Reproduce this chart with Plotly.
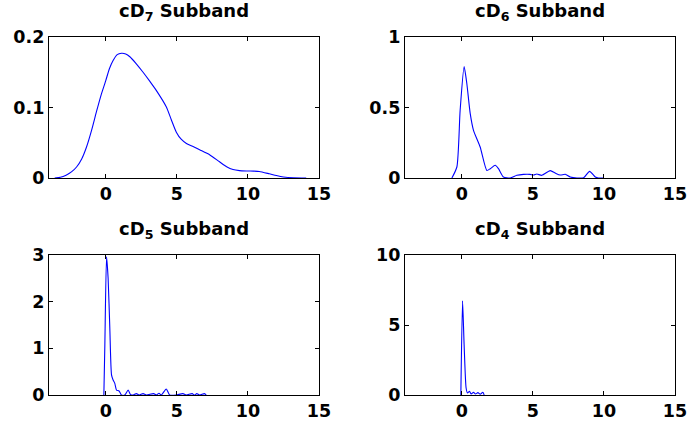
import plotly.graph_objects as go

# ---- data ----
x7 = [-3.6, -3.2, -2.8, -2.4, -2.06, -1.7, -1.36, -1.0, -0.66, -0.33, 0.0, 0.25, 0.52, 0.8, 1.1, 1.4, 1.69, 2.1, 2.62, 3.1, 3.56, 4.26, 4.6, 4.96, 5.3, 5.67, 6.1, 6.6, 7.3, 8.0, 8.5, 8.95, 9.4, 9.9, 10.4, 10.8, 11.5, 12.0, 12.5, 13.2, 14.1]
y7 = [0.0, 0.001, 0.004, 0.009, 0.0156, 0.027, 0.044, 0.068, 0.094, 0.118, 0.1385, 0.155, 0.167, 0.175, 0.177, 0.176, 0.172, 0.163, 0.150, 0.137, 0.124, 0.1007, 0.083, 0.065, 0.055, 0.049, 0.045, 0.040, 0.033, 0.023, 0.016, 0.012, 0.0105, 0.010, 0.0098, 0.0093, 0.006, 0.0035, 0.0015, 0.0003, 0.0]

x6 = [-0.7, -0.35, -0.12, 0.16, 0.35, 0.59, 0.82, 1.29, 1.76, 2.0, 2.35, 2.58, 2.93, 3.4, 3.87, 4.34, 4.8, 5.05, 5.28, 5.63, 6.22, 6.57, 6.92, 7.28, 7.63, 8.1, 8.57, 8.99, 9.39, 9.62, 9.98]
y6 = [0.0, 0.078, 0.48, 0.79, 0.67, 0.456, 0.338, 0.22, 0.054, 0.066, 0.09, 0.066, 0.007, 0.0, 0.019, 0.026, 0.026, 0.021, 0.028, 0.019, 0.052, 0.035, 0.021, 0.026, 0.007, 0.0, 0.002, 0.047, 0.007, 0.0, 0.0]

x5 = [-0.14, -0.07, 0.05, 0.16, 0.28, 0.4, 0.51, 0.63, 0.75, 0.93, 1.1, 1.33, 1.57, 1.73, 1.92, 2.15, 2.34, 2.62, 2.85, 3.36, 3.55, 3.74, 3.9, 4.25, 4.49, 4.95, 5.42, 5.65, 6.07, 6.24, 6.4, 6.6, 6.94, 7.06]
y5 = [0.0, 1.07, 2.96, 2.5, 1.43, 0.43, 0.32, 0.25, 0.107, 0.086, 0.0, 0.0, 0.107, 0.014, 0.0, 0.03, 0.0, 0.03, 0.0, 0.03, 0.0, 0.036, 0.0, 0.13, 0.0, 0.0, 0.03, 0.0, 0.03, 0.0, 0.03, 0.0, 0.03, 0.0]

x4 = [-0.07, 0.05, 0.16, 0.3, 0.4, 0.54, 0.66, 0.82, 0.96, 1.13, 1.29, 1.48, 1.57]
y4 = [0.0, 6.72, 3.59, 0.5, 0.14, 0.26, 0.07, 0.19, 0.07, 0.17, 0.05, 0.19, 0.0]

titles = ["cD<sub>7</sub> Subband", "cD<sub>6</sub> Subband", "cD<sub>5</sub> Subband", "cD<sub>4</sub> Subband"]
xticks = [0, 5, 10, 15]
yticks7 = [0, 0.1, 0.2]
yticks6 = [0, 0.5, 1]
yticks5 = [0, 1, 2, 3]
yticks4 = [0, 5, 10]
yranges = [[0, 0.2], [0, 1], [0, 3], [0, 10]]

W, H = 687, 425
FONT = "DejaVu Sans"
fs = 17.5
tfs = 18

# plot boxes in pixels (left, right, top, bottom)
boxes = [(49, 319, 37, 178), (405, 675, 37, 178), (49, 319, 255, 395), (405, 675, 255, 395)]

fig = go.Figure()
series = [(x7, y7), (x6, y6), (x5, y5), (x4, y4)]
yt = [yticks7, yticks6, yticks5, yticks4]
for i, ((xs, ys), (l, r, t, b)) in enumerate(zip(series, boxes)):
    n = "" if i == 0 else str(i + 1)
    fig.add_trace(go.Scatter(x=xs, y=ys, mode="lines",
                             line=dict(color="#0000ff", width=1.1, shape="spline", smoothing=0.6),
                             xaxis="x" + n, yaxis="y" + n, showlegend=False, hoverinfo="skip"))
    axcommon = dict(showline=True, linecolor="black", linewidth=1.3, mirror="ticks", ticks="inside", ticklen=4,
                    tickcolor="black", showgrid=False, zeroline=False, ticklabeloverflow="allow",
                    tickfont=dict(family=FONT, size=fs, color="black", weight="bold"))
    fig.layout["xaxis" + n] = dict(axcommon, domain=[l / W, r / W], range=[-4, 15], tickvals=xticks,
                                   anchor="y" + n)
    fig.layout["yaxis" + n] = dict(axcommon, domain=[1 - b / H, 1 - t / H], range=yranges[i], tickvals=yt[i],
                                   anchor="x" + n)
    fig.add_annotation(text="<b>" + titles[i] + "</b>", x=(l + r) / 2 / W, y=1 - (t - 25) / H,
                       xref="paper", yref="paper", xanchor="center", yanchor="middle", showarrow=False,
                       font=dict(family=FONT, size=tfs, color="black"))

fig.update_layout(width=W, height=H, margin=dict(l=0, r=0, t=0, b=0, autoexpand=False),
                  plot_bgcolor="white", paper_bgcolor="white")
fig.write_html("out.html")
